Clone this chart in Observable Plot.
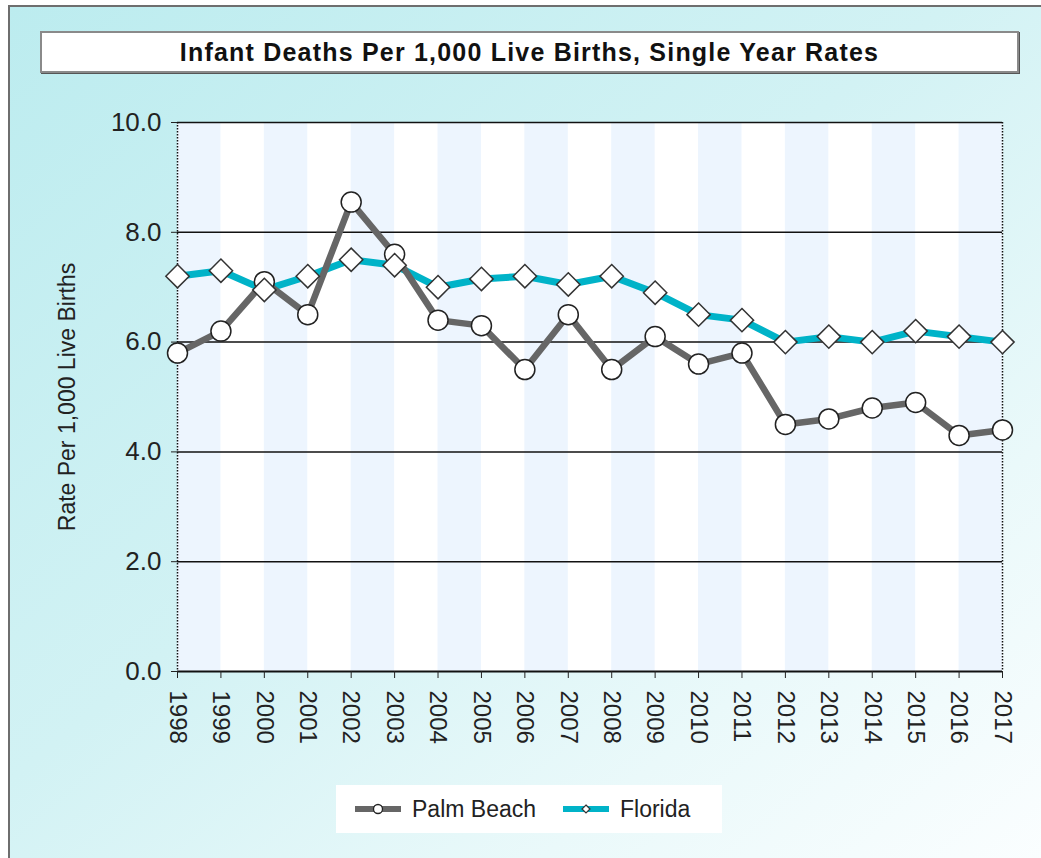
<!DOCTYPE html>
<html>
<head>
<meta charset="utf-8">
<script src="https://cdn.jsdelivr.net/npm/d3@7"></script>
<script src="https://cdn.jsdelivr.net/npm/@observablehq/plot@0.6"></script>
<style>
  html, body { margin: 0; padding: 0; width: 1041px; height: 858px; overflow: hidden; background: #fff; }
  #frame { position: absolute; left: 8px; top: 5px; width: 1040px; height: 860px;
    border-left: 2px solid #6e6e6e; border-top: 2px solid #6e6e6e;
    background: linear-gradient(to bottom right, #bcecef 0%, #d2f2f4 45%, #eaf9fa 75%, #fbfeff 100%); }
  #chart { position: absolute; left: 0; top: 0; }
  #title { position: absolute; left: 40px; top: 31px; width: 975px; height: 38px;
    background: #fff; border: 2px solid #8a8a8a; box-shadow: 1px 1px 0 #555;
    font-family: "Liberation Sans", Arial, sans-serif; font-weight: bold; font-size: 25px; letter-spacing: 1.2px;
    color: #111; text-align: center; line-height: 38px; }
  #legend { position: absolute; left: 336px; top: 785px; width: 386px; height: 48px; background: #fff;
    font-family: "Liberation Sans", Arial, sans-serif; font-size: 23px; color: #222; }
  #legend .item { position: absolute; top: 0; height: 48px; display: flex; align-items: center; }
  #legend svg { margin-right: 10px; }
</style>
</head>
<body>
<div id="frame"></div>
<div id="chart"></div>
<div id="title">Infant Deaths Per 1,000 Live Births, Single Year Rates</div>
<div id="legend">
  <div class="item" style="left:18px">
    <svg width="48" height="14"><line x1="1" x2="47" y1="7" y2="7" stroke="#666" stroke-width="6"/><circle cx="24" cy="7" r="4.5" fill="#fff" stroke="#222" stroke-width="1.3"/></svg>
    <span>Palm Beach</span>
  </div>
  <div class="item" style="left:226px">
    <svg width="48" height="14"><line x1="1" x2="47" y1="7" y2="7" stroke="#00b3c8" stroke-width="6"/><path d="M24,3 L28,7 L24,11 L20,7 Z" fill="#fff" stroke="#333" stroke-width="1.2"/></svg>
    <span>Florida</span>
  </div>
</div>
<script>
const years = [1998, 1999, 2000, 2001, 2002, 2003, 2004, 2005, 2006, 2007, 2008, 2009, 2010, 2011, 2012, 2013, 2014, 2015, 2016, 2017];
const palmBeach = [5.8, 6.2, 7.1, 6.5, 8.55, 7.6, 6.4, 6.3, 5.5, 6.5, 5.5, 6.1, 5.6, 5.8, 4.5, 4.6, 4.8, 4.9, 4.3, 4.4];
const florida = [7.2, 7.3, 6.95, 7.2, 7.5, 7.4, 7.0, 7.15, 7.2, 7.05, 7.2, 6.9, 6.5, 6.4, 6.0, 6.1, 6.0, 6.2, 6.1, 6.0];
const yTicks = [0, 2, 4, 6, 8, 10];
const seriesNames = ["Palm Beach", "Florida"];

const pb = years.map((y, i) => ({year: y, value: palmBeach[i]}));
const fl = years.map((y, i) => ({year: y, value: florida[i]}));
const stripes = years.slice(0, -1).filter((y, i) => i % 2 === 0).map(y => ({x1: y, x2: y + 1}));

const chart = Plot.plot({
  width: 1041,
  height: 858,
  marginLeft: 177,
  marginRight: 39,
  marginTop: 122,
  marginBottom: 187,
  style: {background: "transparent", fontFamily: "'Liberation Sans', Arial, sans-serif", color: "#222"},
  x: {type: "linear", domain: [1998, 2017]},
  y: {domain: [0, 10]},
  marks: [
    Plot.frame({fill: "#fff", stroke: null}),
    Plot.rect(stripes, {x1: "x1", x2: "x2", y1: 0, y2: 10, fill: "#edf5fe"}),
    Plot.ruleY(yTicks.filter(d => d > 0), {stroke: "#111", strokeWidth: 1.5}),
    Plot.ruleX([1998, 2017], {stroke: "#111", strokeWidth: 1.5, strokeDasharray: "1.5,1.5"}),
    Plot.ruleY([0], {stroke: "#111", strokeWidth: 2}),
    Plot.axisY({ticks: yTicks, tickFormat: d3.format(".1f"), fontSize: 26, tickSize: 6, tickPadding: 10, label: null}),
    Plot.axisX({ticks: years, tickFormat: d => String(d), tickRotate: 90, fontSize: 24, tickSize: 7, tickPadding: 12, label: null}),
    Plot.text(["Rate Per 1,000 Live Births"], {frameAnchor: "left", rotate: -90, dx: -110, textAnchor: "middle", fontSize: 23, fill: "#222"}),
    Plot.line(fl, {x: "year", y: "value", stroke: "#00b3c8", strokeWidth: 7}),
    Plot.line(pb, {x: "year", y: "value", stroke: "#666", strokeWidth: 6.5}),
    Plot.dot(pb, {x: "year", y: "value", r: 10, symbol: "circle", fill: "#fff", stroke: "#222", strokeWidth: 1.5}),
    Plot.dot(fl, {x: "year", y: "value", r: 10.5, symbol: "diamond2", fill: "#fff", stroke: "#333", strokeWidth: 1.5})
  ]
});
document.getElementById("chart").appendChild(chart);
</script>
</body>
</html>
